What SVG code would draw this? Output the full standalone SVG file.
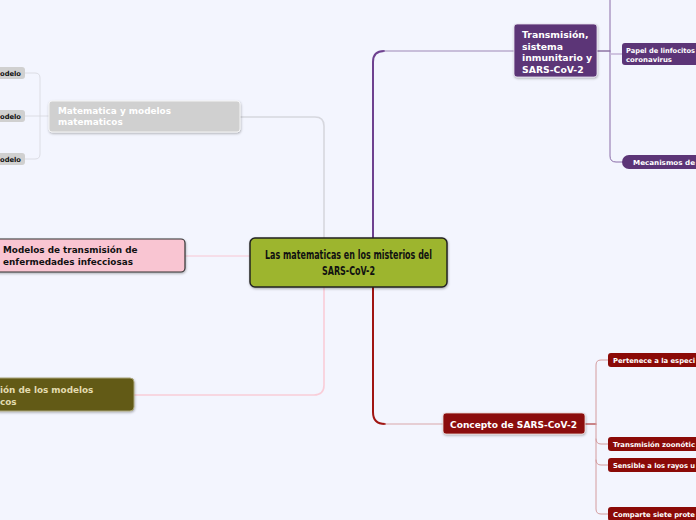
<svg xmlns="http://www.w3.org/2000/svg" width="696" height="520" viewBox="0 0 696 520">
<defs>
<filter id="sh" x="-10%" y="-20%" width="130%" height="150%"><feDropShadow dx="0.5" dy="1.2" stdDeviation="0.8" flood-color="#000" flood-opacity="0.3"/></filter>
</defs>
<style>
.t{font-family:"DejaVu Sans","Verdana",sans-serif;font-weight:bold;}
.w{fill:#ffffff;}
.k{fill:#111111;}
.c{fill:none;stroke-linecap:round;}
.s{font-size:6.8px;}
</style>
<rect width="696" height="520" fill="#f3f5fe"/>
<g id="connectors">
<path class="c" d="M324,238 V126 Q324,117 315,117 H240" stroke="#d6d7de" stroke-width="1.6"/>
<path class="c" d="M49,116 H40" stroke="#dcdde4" stroke-width="1"/>
<path class="c" d="M25,73 H35 Q40,73 40,78 V154 Q40,159 35,159 H25 M25,116 H40" stroke="#dcdde4" stroke-width="1"/>
<path class="c" d="M250,256 H185" stroke="#f8c6d3" stroke-width="1"/>
<path class="c" d="M324,287 V385 Q324,395 314,395 H134" stroke="#f9cdd8" stroke-width="1.6"/>
<path class="c" d="M373,238 V62 Q373,51 384,51" stroke="#6e4190" stroke-width="2"/>
<path class="c" d="M384,51 H514" stroke="#9d87b6" stroke-width="1.2"/>
<path class="c" d="M597,51 H610" stroke="#5c3577" stroke-width="1.2"/>
<path class="c" d="M610,0 V156 Q610,162 616,162 H622" stroke="#8a6ca8" stroke-width="1"/>
<path class="c" d="M610,54 H622" stroke="#c4b4d6" stroke-width="1.5"/>
<path class="c" d="M373,287 V412 Q373,424 385,424" stroke="#a01512" stroke-width="2"/>
<path class="c" d="M385,424 H443" stroke="#d9a7a9" stroke-width="1.2"/>
<path class="c" d="M585,424 H596" stroke="#a01512" stroke-width="1.2"/>
<path class="c" d="M608,360 H601 Q596,360 596,365 V509 Q596,514 601,514 H608 M596,439 Q596,444 601,444 H608 M596,460 Q596,465 601,465 H608" stroke="#d49c9e" stroke-width="1"/>
</g>
<g id="center">
<rect x="250" y="238" width="197" height="49" rx="5" fill="#9db52d" stroke="#222" stroke-width="1.5" filter="url(#sh)"/>
<text x="348.5" y="259" text-anchor="middle" font-family="'DejaVu Sans Condensed','Liberation Sans Narrow',sans-serif" font-weight="bold" font-size="12" fill="#111" textLength="167" lengthAdjust="spacingAndGlyphs">Las matematicas en los misterios del</text>
<text x="348.5" y="275" text-anchor="middle" font-family="'DejaVu Sans Condensed','Liberation Sans Narrow',sans-serif" font-weight="bold" font-size="12" fill="#111" textLength="53" lengthAdjust="spacingAndGlyphs">SARS-CoV-2</text>
</g>
<g id="transmision">
<rect x="514" y="24" width="83" height="53" rx="3" fill="#5c3577" stroke="#e6e0ee" stroke-width="0.8" filter="url(#sh)"/>
<text class="t w" font-size="9.3"><tspan x="522" y="38">Transmisión,</tspan><tspan x="522" y="49.5">sistema</tspan><tspan x="522" y="61">inmunitario y</tspan><tspan x="522" y="72.5">SARS-CoV-2</tspan></text>
</g>
<g id="papel">
<rect x="622" y="43" width="80" height="22" rx="3" fill="#5c3577"/>
<text class="t w s" x="626" y="52.5" textLength="69" lengthAdjust="spacingAndGlyphs">Papel de linfocitos</text>
<text class="t w s" x="626" y="62" textLength="46" lengthAdjust="spacingAndGlyphs">coronavirus</text>
</g>
<g id="mecanismos">
<rect x="622" y="155" width="90" height="14" rx="7" fill="#5c3577"/>
<text class="t w s" x="633" y="165" textLength="62" lengthAdjust="spacingAndGlyphs">Mecanismos de</text>
</g>
<g id="matematica">
<rect x="49" y="101" width="191" height="31" rx="3" fill="#d0d0d0" stroke="#f4f4f4" stroke-width="1" filter="url(#sh)"/>
<text class="t w" font-size="8.9"><tspan x="58" y="114">Matematica y modelos</tspan><tspan x="58" y="125">matematicos</tspan></text>
</g>
<g id="modelo1">
<rect x="-10" y="67" width="35" height="12" rx="3" fill="#d0d0d0"/>
<text class="t k" font-size="6.8" x="0" y="75.5" textLength="21" lengthAdjust="spacingAndGlyphs">odelo</text>
</g>
<g id="modelo2">
<rect x="-10" y="110" width="35" height="12" rx="3" fill="#d0d0d0"/>
<text class="t k" font-size="6.8" x="0" y="118.5" textLength="21" lengthAdjust="spacingAndGlyphs">odelo</text>
</g>
<g id="modelo3">
<rect x="-10" y="153" width="35" height="12" rx="3" fill="#d0d0d0"/>
<text class="t k" font-size="6.8" x="0" y="161.5" textLength="21" lengthAdjust="spacingAndGlyphs">odelo</text>
</g>
<g id="modelos">
<rect x="-6" y="239" width="191" height="33" rx="4" fill="#f9c5d2" stroke="#333" stroke-width="1.2" filter="url(#sh)"/>
<text class="t k" font-size="8.85"><tspan x="3" y="253">Modelos de transmisión de</tspan><tspan x="3" y="265">enfermedades infecciosas</tspan></text>
</g>
<g id="evaluacion">
<rect x="-6" y="378" width="140" height="33" rx="4" fill="#625a17" stroke="#a9a57a" stroke-width="1" filter="url(#sh)"/>
<text class="t" font-size="8.85" fill="#e3dcb0"><tspan x="0" y="393">ión de los modelos</tspan><tspan x="0" y="405">cos</tspan></text>
</g>
<g id="concepto">
<rect x="443" y="413" width="142" height="21" rx="3" fill="#8b0a07" stroke="#e8d6d6" stroke-width="0.8" filter="url(#sh)"/>
<text class="t w" font-size="9.2" x="450" y="427.5" textLength="127" lengthAdjust="spacingAndGlyphs">Concepto de SARS-CoV-2</text>
</g>
<g id="pertenece">
<rect x="608" y="353" width="100" height="14" rx="3" fill="#8b0a07"/>
<text class="t w s" x="613" y="363" textLength="82" lengthAdjust="spacingAndGlyphs">Pertenece a la especi</text>
</g>
<g id="zoonotica">
<rect x="608" y="437" width="100" height="14" rx="3" fill="#8b0a07"/>
<text class="t w s" x="613" y="447" textLength="82" lengthAdjust="spacingAndGlyphs">Transmisión zoonótic</text>
</g>
<g id="sensible">
<rect x="608" y="458" width="100" height="14" rx="3" fill="#8b0a07"/>
<text class="t w s" x="613" y="468" textLength="82" lengthAdjust="spacingAndGlyphs">Sensible a los rayos u</text>
</g>
<g id="comparte">
<rect x="608" y="507" width="100" height="14" rx="3" fill="#8b0a07"/>
<text class="t w s" x="613" y="517" textLength="82" lengthAdjust="spacingAndGlyphs">Comparte siete prote</text>
</g>
</svg>
